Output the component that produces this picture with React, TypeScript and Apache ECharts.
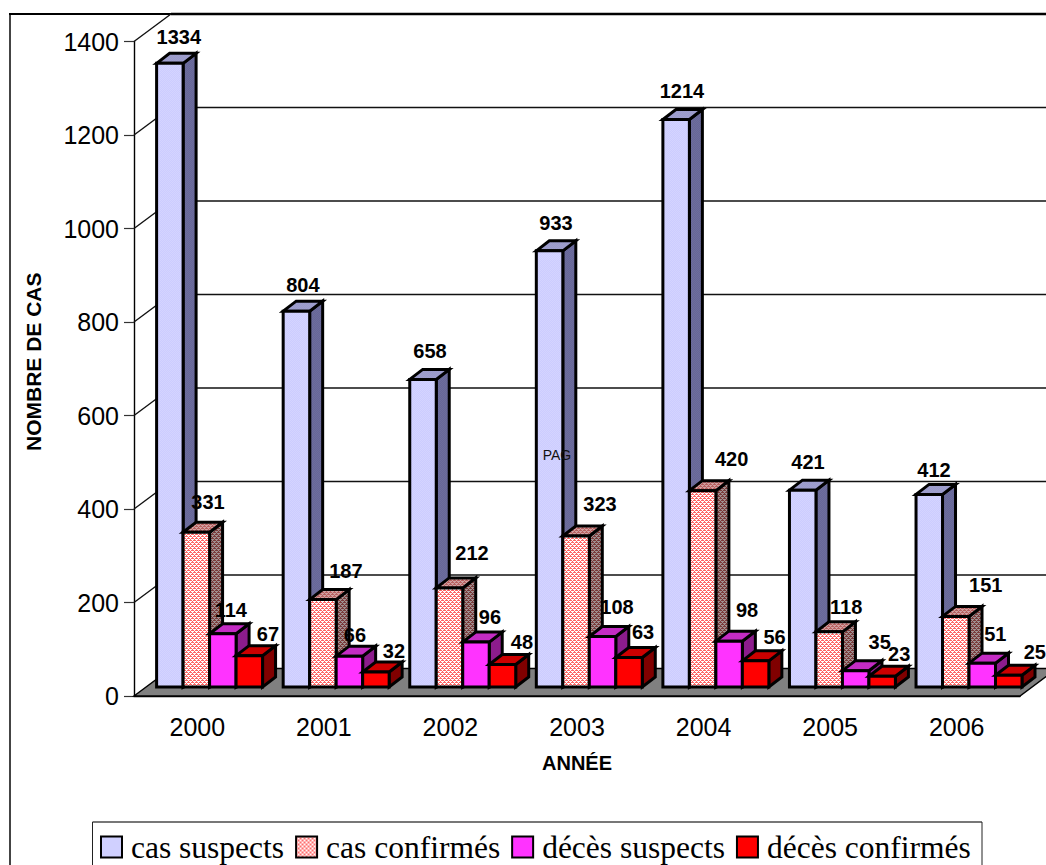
import React, { useEffect, useRef } from "react";
import * as echarts from "echarts";

const years = ["2000", "2001", "2002", "2003", "2004", "2005", "2006"];
const casSuspects = [1334, 804, 658, 933, 1214, 421, 412];
const casConfirmes = [331, 187, 212, 323, 420, 118, 151];
const decesSuspects = [114, 66, 96, 108, 98, 35, 51];
const decesConfirmes = [67, 32, 48, 63, 56, 23, 25];
const yTicks = [200, 400, 600, 800, 1000, 1200, 1400];

// Hand placement of the value labels relative to each bar's top centre.
const labelNudgeX = [
  [9, 6.5, 7, 6.4, 5.8, 5.3, 4.7],
  [11.6, 23, 22.5, 24, 29, 17, 30],
  [8, 5.5, 14, 14.4, 18, 24, 13],
  [18.6, 18, 19.5, 14, 19, 17, 26],
];
const labelNudgeY = [
  [-26.4, -26, -28.4, -27.8, -28.5, -28.2, -24.4],
  [-30, -28.6, -35, -32, -31.6, -24.8, -31.4],
  [-23.7, -21, -25, -29.5, -31, -28.6, -29],
  [-21.7, -21, -22.6, -25.5, -24, -22, -23],
];

const WALL_DX = 37;
const WALL_DY = -27.5;
const BAR_OFF_X = 12.3;
const BAR_OFF_Y = -9;
const BAR_DEPTH_X = 13;
const BAR_DEPTH_Y = -10;
const BAR_SHARE = 0.2093;
const SANS = '"Liberation Sans", Arial, sans-serif';

function pattern(size: number, paint: (x: number, y: number) => string) {
  const c = document.createElement("canvas");
  c.width = size;
  c.height = size;
  const g = c.getContext("2d")!;
  for (let y = 0; y < size; y++) {
    for (let x = 0; x < size; x++) {
      g.fillStyle = paint(x, y);
      g.fillRect(x, y, 1, 1);
    }
  }
  return { image: c, repeat: "repeat" } as any;
}

const HERRING = [
  [1, 0, 0, 0],
  [0, 1, 1, 1],
  [0, 0, 1, 0],
  [1, 1, 0, 1],
];
const herring = (a: string, b: string) =>
  pattern(4, (x, y) => (HERRING[y][x] ? a : b));
const checker = (a: string, b: string) =>
  pattern(2, (x, y) => ((x + y) % 2 ? a : b));

export default function App() {
  const ref = useRef<HTMLDivElement>(null);
  useEffect(() => {
    const chart = echarts.init(ref.current!, undefined, { renderer: "svg" });
    const looks = [
      {
        front: checker("#CCCCFF", "#D4D4FF"),
        side: checker("#666699", "#6E6E9C"),
        top: checker("#9999CC", "#A0A0CC"),
      },
      {
        front: herring("#FFFFFF", "#FF6666"),
        side: herring("#A09090", "#7A3A3A"),
        top: herring("#D0A0A0", "#B86060"),
      },
      { front: "#FF33FF", side: "#8C1C8C", top: "#C42CC4" },
      { front: "#FF0000", side: "#800000", top: "#CC0000" },
    ];
    const names = ["cas suspects", "cas confirmés", "décès suspects", "décès confirmés"];
    const values = [casSuspects, casConfirmes, decesSuspects, decesConfirmes];

    const barSeries = values.map((vals, s) => ({
      type: "custom",
      name: names[s],
      coordinateSystem: "cartesian2d",
      clip: false,
      z: 3 + s,
      itemStyle: { color: looks[s].front, borderColor: "#000", borderWidth: 3 },
      encode: { x: 0, y: 1 },
      data: vals.map((v, i) => [i, v]),
      renderItem: (params: any, api: any) => {
        const i = api.value(0);
        const v = api.value(1);
        const band = api.size([1, 0])[0];
        const w = band * BAR_SHARE;
        const base = api.coord([i, 0]);
        const head = api.coord([i, v]);
        const x0 = base[0] + BAR_OFF_X - 2 * w + s * w;
        const x1 = x0 + w;
        const yb = base[1] + BAR_OFF_Y;
        const yt = head[1] + BAR_OFF_Y;
        const stroke = { stroke: "#000", lineWidth: 3, lineJoin: "miter" };
        const dx = BAR_DEPTH_X;
        const dy = BAR_DEPTH_Y;
        return {
          type: "group",
          children: [
            {
              type: "polygon",
              shape: { points: [[x1, yt], [x1 + dx, yt + dy], [x1 + dx, yb + dy], [x1, yb]] },
              style: { fill: looks[s].side, ...stroke },
            },
            {
              type: "polygon",
              shape: { points: [[x0, yt], [x0 + dx, yt + dy], [x1 + dx, yt + dy], [x1, yt]] },
              style: { fill: looks[s].top, ...stroke },
            },
            {
              type: "rect",
              shape: { x: x0, y: yt, width: w, height: yb - yt },
              style: { fill: looks[s].front, ...stroke },
            },
            {
              type: "text",
              x: (x0 + x1) / 2 + labelNudgeX[s][i],
              y: yt + labelNudgeY[s][i],
              z2: 50,
              style: {
                text: String(v),
                fill: "#000",
                font: `bold 20px ${SANS}`,
                align: "center",
                verticalAlign: "middle",
              },
            },
          ],
        };
      },
    }));

    const wallSeries = {
      type: "custom",
      name: "parois",
      coordinateSystem: "cartesian2d",
      clip: false,
      silent: true,
      z: 1,
      encode: { x: 0, y: 1 },
      data: [[0, 0]],
      renderItem: (params: any, api: any) => {
        const band = api.size([1, 0])[0];
        const o = api.coord([0, 0]);
        const left = o[0] - band / 2;
        const right = left + band * years.length;
        const line = { stroke: "#111", lineWidth: 1.4 };
        const kids: any[] = [
          {
            type: "polygon",
            shape: {
              points: [
                [left, o[1]],
                [right, o[1]],
                [right + WALL_DX, o[1] + WALL_DY],
                [left + WALL_DX, o[1] + WALL_DY],
              ],
            },
            style: { fill: "#808080", stroke: "#000", lineWidth: 1.4 },
          },
        ];
        yTicks.forEach((t) => {
          const y = api.coord([0, t])[1];
          kids.push({
            type: "line",
            shape: { x1: left, y1: y, x2: left + WALL_DX, y2: y + WALL_DY },
            style: line,
          });
          kids.push({
            type: "line",
            shape: { x1: left + WALL_DX, y1: y + WALL_DY, x2: right + WALL_DX, y2: y + WALL_DY },
            style: t === 1400 ? { stroke: "#000", lineWidth: 2.4 } : line,
          });
        });
        return { type: "group", children: kids };
      },
    };

    chart.setOption({
      animation: false,
      backgroundColor: "#fff",
      grid: { left: 134, top: 41.5, width: 886, height: 654.5, containLabel: false },
      xAxis: {
        type: "category",
        data: years,
        boundaryGap: true,
        name: "ANNÉE",
        nameLocation: "middle",
        nameGap: 57,
        nameTextStyle: { fontFamily: SANS, fontWeight: "bold", fontSize: 20, color: "#000" },
        axisLine: { lineStyle: { color: "#000", width: 1.4 } },
        axisTick: { length: 11, lineStyle: { color: "#222", width: 1.2 } },
        axisLabel: { fontFamily: SANS, fontSize: 25, color: "#000", margin: 18 },
        splitLine: { show: false },
      },
      yAxis: {
        type: "value",
        min: 0,
        max: 1400,
        interval: 200,
        name: "NOMBRE DE CAS",
        nameLocation: "middle",
        nameGap: 90,
        nameRotate: 90,
        nameTextStyle: {
          fontFamily: SANS,
          fontWeight: "bold",
          fontSize: 21,
          color: "#000",
          padding: [0, 0, 0, 14],
        },
        axisLine: { show: true, lineStyle: { color: "#000", width: 1.4 } },
        axisTick: { show: true, length: 10, lineStyle: { color: "#333", width: 1.2 } },
        axisLabel: {
          fontFamily: SANS,
          fontSize: 25,
          color: "#000",
          margin: 15,
          formatter: (v: number) => String(v),
        },
        splitLine: { show: false },
      },
      legend: {
        left: 95,
        top: 826,
        orient: "horizontal",
        data: names,
        icon: "rect",
        itemWidth: 21,
        itemHeight: 21,
        itemGap: 11,
        selectedMode: false,
        textStyle: {
          fontFamily: '"Liberation Serif", "Times New Roman", serif',
          fontSize: 31.5,
          color: "#000",
          padding: [0, 0, 0, 4],
        },
      },
      graphic: [
        { type: "line", shape: { x1: 10, y1: 14, x2: 10, y2: 865 }, style: { stroke: "#444", lineWidth: 2 } },
        { type: "line", shape: { x1: 9, y1: 14, x2: 1046, y2: 14 }, style: { stroke: "#000", lineWidth: 2 } },
        { type: "line", shape: { x1: 92.5, y1: 822, x2: 982, y2: 822 }, style: { stroke: "#777", lineWidth: 2 } },
        { type: "line", shape: { x1: 92.5, y1: 822, x2: 92.5, y2: 865 }, style: { stroke: "#222", lineWidth: 1 } },
        { type: "line", shape: { x1: 982, y1: 822, x2: 982, y2: 865 }, style: { stroke: "#222", lineWidth: 1 } },
        {
          type: "text",
          x: 557,
          y: 455,
          z: 20,
          style: { text: "PAG", fill: "#111", font: `14px ${SANS}`, align: "center", verticalAlign: "middle" },
        },
      ],
      series: [wallSeries, ...barSeries],
    } as any);
    return () => chart.dispose();
  }, []);
  return (
    <div
      ref={ref}
      style={{ position: "fixed", left: 0, top: 0, width: 1046, height: 865 }}
    />
  );
}
